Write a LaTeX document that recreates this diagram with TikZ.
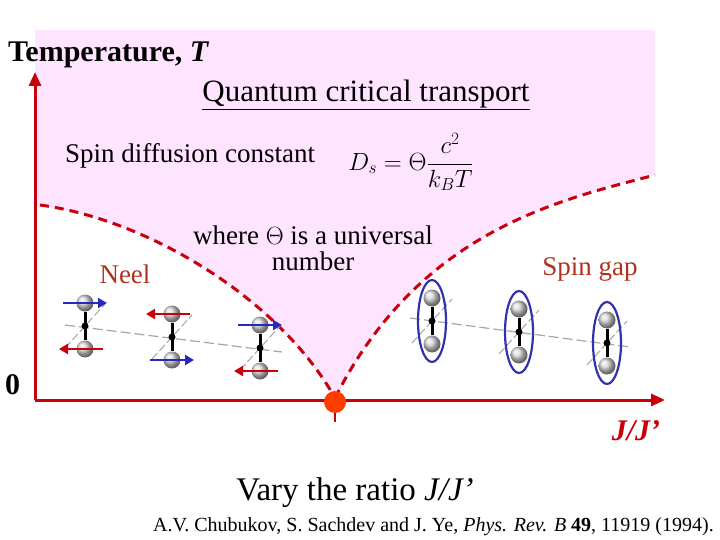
\documentclass[tikz,border=0pt]{standalone}
\usepackage{fontspec}
\setmainfont{Liberation Serif}
\usetikzlibrary{arrows.meta}
\definecolor{axred}{RGB}{200,0,10}
\definecolor{pinkbg}{RGB}{255,228,255}
\definecolor{dot}{RGB}{255,60,0}
\definecolor{lbl}{RGB}{175,50,30}
\definecolor{spinblue}{RGB}{40,40,190}
\definecolor{ringblue}{RGB}{50,50,170}
\tikzset{
 crit/.style={axred,line width=3pt,dash pattern=on 9pt off 6pt},
 axis/.style={axred,line width=3pt,-{Triangle[length=14pt,width=12pt]}},
 ball/.style={circle,inner sep=0pt,minimum size=17pt,shading=ball,ball color=gray!30},
 bond/.style={line width=3pt,black},
 chain/.style={gray!70,line width=1.2pt,dash pattern=on 10pt off 4pt},
 diag/.style={gray!70,line width=1pt,dash pattern=on 8pt off 3pt},
 sarrow/.style={line width=2.5pt,-{Triangle[length=9pt,width=10pt]}},
 ring/.style={ringblue,line width=2.2pt},
 txt/.style={inner sep=0pt,font=\fontsize{27}{30}\selectfont}
}
\begin{document}
\begin{tikzpicture}[x=1pt,y=-1pt]
\useasboundingbox (0,0) rectangle (720,540);
\fill[pinkbg] (35,30) -- (655,30) -- (655,175) .. controls (560,200) and (420,230) .. (335,400) .. controls (280,300) and (150,220) .. (35,205) -- cycle;
\draw[crit] (40,205) .. controls (150,220) and (280,300) .. (335,398);
\draw[crit] (335,398) .. controls (420,230) and (560,200) .. (655,175);
\coordinate (o) at (35,400);
\coordinate (ytop) at (35,72);
\coordinate (xend) at (665,400);
\draw[axis] (o) -- (ytop);
\draw[axis] (o) -- (xend);
\node[circle,fill=dot,minimum size=22pt,inner sep=0pt] (qcp) at (335,402) {};
\coordinate (tick) at (335,422);
\draw[axred,line width=2.5pt] (qcp) -- (tick);
% chains
\draw[chain] (65,325) -- (282,352);
\draw[chain] (410,318) -- (630,347);
% left dimers
\foreach \x/\y/\s in {85/326/1,172/337/0,260/348/1}{
  \draw[diag] (\x-20,\y+22) -- (\x+20,\y-22);
  \node[ball] (a) at (\x,\y-23) {};
  \node[ball] (b) at (\x,\y+23) {};
  \draw[bond] (a) -- (b);
  \fill (\x,\y) circle (3.5pt);
  \ifnum\s=1
   \draw[sarrow,spinblue] (\x-22,\y-23) -- (\x+22,\y-23);
   \draw[sarrow,axred] (\x+18,\y+23) -- (\x-26,\y+23);
  \else
   \draw[sarrow,axred] (\x+18,\y-23) -- (\x-26,\y-23);
   \draw[sarrow,spinblue] (\x-22,\y+23) -- (\x+22,\y+23);
  \fi
}
% right dimers
\foreach \x/\y in {432/321,519/332,607/343}{
  \draw[diag] (\x-20,\y+22) -- (\x+20,\y-22);
  \node[ball] (a) at (\x,\y-23) {};
  \node[ball] (b) at (\x,\y+23) {};
  \draw[bond] (a) -- (b);
  \fill (\x,\y) circle (3.5pt);
  \draw[ring] (\x,\y) ellipse (14pt and 41pt);
}
% texts
\node[txt,anchor=west,font=\fontsize{30}{34}\selectfont\bfseries] (tt) at (8,55) {Temperature, \textit{T}};
\node[txt,font=\fontsize{31}{34}\selectfont] (qct) at (366,95) {\underline{Quantum critical transport}};
\node[txt,anchor=west] (sdc) at (65,156) {Spin diffusion constant};
\node[inner sep=0pt,font=\fontsize{23}{26}\selectfont] (frm) at (411,162) {$\displaystyle D_{s}=\Theta\frac{c^{2}}{k_{B}T}$};
\node[txt,align=center] (wh) at (313,248) {where $\Theta$ is a universal\\[-4pt]number};
\node[txt,lbl] (neel) at (125,274) {Neel};
\node[txt,lbl] (sg) at (590,269) {Spin gap};
\node[txt,anchor=west,font=\fontsize{30}{34}\selectfont\bfseries] (zero) at (5,385) {0};
\node[txt,axred,font=\fontsize{30}{34}\selectfont\bfseries\itshape] (jj) at (636,431) {J/J’};
\node[txt,font=\fontsize{33}{36}\selectfont] (vary) at (355,493) {Vary the ratio \textit{J/J’}};
\node[inner sep=0pt,anchor=east,font=\fontsize{20}{22}\selectfont] (cite) at (714,527) {A.V. Chubukov, S. Sachdev and J. Ye, \textit{Phys. Rev. B} \textbf{49}, 11919 (1994).};
\end{tikzpicture}
\end{document}
